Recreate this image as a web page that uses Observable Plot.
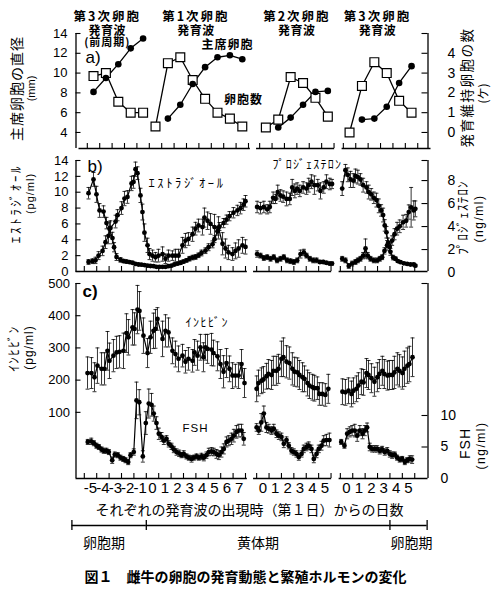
<!DOCTYPE html>
<html lang="ja">
<head>
<meta charset="utf-8">
<script src="https://cdn.jsdelivr.net/npm/d3@7"></script>
<script src="https://cdn.jsdelivr.net/npm/@observablehq/plot@0.6"></script>
<style>
  html, body { margin: 0; padding: 0; background: #fff; }
  #fig { position: relative; width: 494px; height: 596px; overflow: hidden; background: #fff; }
  #fig svg { position: absolute; left: 0; overflow: visible; }
</style>
</head>
<body>
<div id="fig"></div>
<script>
// ---------------- DATA ----------------
// x-axis: days from the emergence of each follicular wave (three segments)
const SEG_DAYS = [[-5,-4,-3,-2,-1,0,1,2,3,4,5,6,7],[0,1,2,3,4,5],[0,1,2,3,4,5]];

// panel a) follicle waves
const WAVE_TITLES = [["第3次卵胞","発育波","(前周期)"],["第1次卵胞","発育波"],["第2次卵胞","発育波"],["第3次卵胞","発育波"]];
const WAVE_SEG = [0,0,1,2];
const COUNT_DAYS = [[-5,-4,-3,-2,-1],[0,1,2,3,4,5,6,7],[0,1,2,3,4,5],[0,1,2,3,4,5]];
const COUNT_VALS = [[2.85,3.0,1.55,1.0,1.0],[0.3,3.5,3.8,2.65,1.7,1.0,0.7,0.3],[0.25,0.65,2.8,2.5,1.75,0.8],[0.0,2.35,3.55,3.0,1.6,1.0]];
const DIAM_DAYS = [[-5,-4,-3,-2,-1],[1,2,3,4,5,6,7],[1,2,3,4,5],[1,2,3,4,5]];
const DIAM_VALS = [[8.1,9.5,10.9,12.5,13.5],[5.4,6.8,8.9,10.6,11.6,11.8,11.4],[4.5,5.5,6.8,8.1,8.2],[5.3,5.4,6.6,9.0,10.7]];
const DIAM_TICKS = [4,6,8,10,12,14];
const COUNT_TICKS = [0,1,2,3,4];

// panel b) estradiol (pg/ml)
const E2_T = [
  [-4.66,-4.34,-4.10,-3.85,-3.53,-3.29,-3.05,-2.89,-2.48,-2.32,-2.00,-1.76,-1.52,-1.19,-1.03,-0.87,-0.71,-0.47,-0.31,-0.15,0.10,0.26,0.50,0.74,0.98,1.31,1.55,1.79,2.11,2.35,2.60,2.92,3.16,3.40,3.73,3.97,4.21,4.53,4.69,4.94,5.18,5.50,5.82,6.15,6.39,6.63,6.95,7.19,7.44,7.76,8.00],
  [0.04,0.31,0.58,0.85,1.12,1.38,1.65,1.92,2.19,2.46,2.73,3.00,3.27,3.54,3.81,4.02,4.29,4.56,4.83,5.10,5.37,5.63,5.90,6.08],
  [0.15,0.41,0.68,0.95,1.22,1.41,1.62,1.84,2.03,2.21,2.43,2.70,2.97,3.18,3.37,3.56,3.77,3.98,4.18,4.37,4.58,4.79,5.06,5.31,5.52,5.71,5.92,6.05]
];
const E2_V = [
  [1.2,1.3,1.4,2.0,2.6,3.7,4.5,5.5,6.3,7.1,8.0,9.2,9.4,11.1,11.3,12.9,12.4,9.6,7.5,4.9,3.3,2.2,2.0,1.8,2.0,2.2,1.6,2.0,2.0,2.0,2.0,3.3,3.9,4.1,4.7,5.4,5.8,5.6,6.8,6.4,6.0,5.6,5.5,3.5,2.9,2.4,2.2,2.6,2.9,3.3,3.1],
  [2.2,2.0,1.7,1.8,1.6,1.8,1.4,1.6,1.8,1.4,1.3,1.2,1.4,2.2,2.4,2.0,1.6,1.4,1.4,1.2,1.2,1.1,1.0,1.0],
  [1.6,1.4,0.7,1.0,1.2,1.4,1.6,2.0,2.9,2.0,1.6,1.4,1.4,1.6,1.8,2.6,3.3,3.1,3.9,4.7,5.4,5.7,6.2,6.4,7.5,8.1,7.7,7.9]
];
const E2_E = [
  [0.3,0.3,0.4,0.5,0.6,0.8,1.0,0.9,0.8,0.7,0.8,0.9,0.8,0.9,0.8,0.9,0.8,0.9,1.0,1.1,0.9,0.7,0.7,0.6,0.8,0.9,0.6,0.7,0.6,0.8,0.8,1.0,0.9,0.8,0.9,0.8,0.8,1.0,1.2,1.1,1.3,1.6,1.4,1.4,1.2,0.9,0.8,1.0,1.1,1.0,0.9],
  [0.4,0.3,0.3,0.3,0.3,0.3,0.3,0.3,0.3,0.3,0.3,0.3,0.3,0.5,0.4,0.3,0.3,0.3,0.3,0.2,0.2,0.2,0.2,0.2],
  [0.3,0.3,0.3,0.3,0.3,0.3,0.3,0.4,1.2,0.4,0.3,0.3,0.3,0.3,0.3,0.4,0.6,0.5,0.6,0.7,0.8,0.8,0.9,0.8,0.9,2.5,1.2,1.0]
];
const E2_TICKS = [0,2,4,6,8,10,12,14];

// panel b) progesterone (ng/ml)
const P4_T = [
  [-4.66,-4.26,-4.02,-3.77,-3.45,-3.21,-2.97,-2.73,-2.60,-2.40,-2.08,-1.84,-1.60,-1.35,-1.11,-0.87,-0.63,-0.39,-0.15,0.10,0.34,0.58,0.82,1.06,1.31,1.55,1.79,2.03,2.27,2.52,2.76,3.00,3.24,3.48,3.73,3.97,4.21,4.45,4.77,5.02,5.34,5.50,5.74,5.90,6.23,6.47,6.71,7.03,7.35,7.60,7.84,8.00],
  [0.04,0.31,0.58,0.85,1.06,1.33,1.52,1.70,1.92,2.14,2.41,2.67,2.87,3.08,3.27,3.48,3.75,4.02,4.20,4.42,4.66,4.93,5.15,5.41,5.63,5.90,6.08],
  [0.15,0.41,0.60,0.82,1.04,1.22,1.41,1.62,1.84,2.11,2.29,2.49,2.70,2.91,3.10,3.29,3.45,3.58,3.72,3.86,4.04,4.26,4.45,4.63,4.85,5.12,5.39,5.66,5.92,6.05]
];
const P4_V = [
  [6.9,8.1,6.8,5.4,5.3,4.3,3.8,3.0,2.2,1.35,1.1,1.0,0.95,0.9,0.85,0.75,0.7,0.68,0.65,0.6,0.57,0.55,0.5,0.5,0.5,0.5,0.55,0.6,0.7,0.77,0.85,0.95,1.05,1.2,1.3,1.35,1.5,1.7,1.9,2.2,2.45,2.9,3.6,4.0,4.3,4.6,4.9,5.2,5.4,5.6,5.9,6.2],
  [5.7,5.6,5.7,5.5,5.7,6.5,6.4,7.0,6.7,6.6,6.4,6.4,7.4,7.1,7.3,7.1,7.4,7.3,7.6,7.9,7.6,7.6,7.1,7.4,7.9,7.7,7.7],
  [7.3,8.9,8.5,8.1,8.0,8.4,8.3,8.1,7.6,7.4,7.0,6.8,6.5,6.3,5.8,5.4,5.0,4.1,3.5,2.6,1.8,1.3,1.2,1.0,0.9,0.8,0.75,0.7,0.7,0.6]
];
const P4_E = [
  [0.5,0.6,0.7,0.6,0.5,0.5,0.6,0.5,0.4,0.3,0.2,0.15,0.15,0.1,0.1,0.1,0.1,0.1,0.1,0.1,0.1,0.1,0.1,0.1,0.1,0.1,0.1,0.1,0.1,0.1,0.15,0.15,0.15,0.2,0.2,0.2,0.2,0.25,0.25,0.3,0.3,0.3,0.35,0.35,0.4,0.4,0.4,0.45,0.45,0.5,0.5,0.5],
  [0.5,0.5,0.5,0.4,0.5,0.5,0.4,0.6,0.5,0.5,0.6,0.5,0.7,0.6,0.5,0.5,0.5,0.5,0.6,0.6,0.8,0.5,0.7,0.5,0.6,0.5,0.4],
  [0.6,0.5,0.6,0.7,0.6,0.6,0.6,0.5,0.6,0.5,0.6,0.5,0.5,0.6,0.6,0.5,0.6,0.5,0.5,0.4,0.3,0.2,0.15,0.1,0.1,0.1,0.1,0.1,0.1,0.1]
];
const P4_TICKS = [0,2,4,6,8];

// panel c) inhibin (pg/ml)
const INH_T = [
  [-4.74,-4.42,-4.18,-3.94,-3.61,-3.37,-3.13,-2.97,-2.65,-2.40,-2.16,-1.84,-1.60,-1.44,-1.11,-0.95,-0.71,-0.55,-0.23,0.10,0.34,0.58,0.74,0.90,1.31,1.55,1.79,2.11,2.35,2.60,2.92,3.16,3.40,3.73,3.89,4.13,4.37,4.61,4.77,4.94,5.26,5.42,5.74,5.98,6.23,6.47,6.71,6.95,7.19,7.44,7.68,7.92],
  [0.00,0.15,0.39,0.55,0.79,0.95,1.20,1.35,1.59,1.76,2.00,2.16,2.41,2.64,2.88,3.06,3.29,3.45,3.70,3.86,4.10,4.26,4.50,4.66,4.90,5.06,5.30,5.54,5.78],
  [0.17,0.41,0.66,0.90,1.06,1.30,1.46,1.70,1.87,2.11,2.27,2.51,2.75,2.99,3.15,3.39,3.55,3.80,3.96,4.20,4.36,4.60,4.77,5.01,5.17,5.41,5.57,5.82]
];
const INH_V = [
  [222,222,209,245,235,235,291,260,276,286,288,291,346,333,364,359,419,415,338,284,333,353,359,390,328,353,348,291,281,266,276,257,266,260,286,276,302,271,302,297,295,284,274,250,226,253,235,214,214,214,250,191],
  [173,191,198,202,212,219,216,229,229,235,266,271,257,253,235,226,224,216,209,204,191,183,178,175,175,157,157,154,173],
  [164,162,167,157,167,173,183,195,193,222,216,206,195,209,219,229,219,214,216,216,224,235,229,222,235,245,250,271]
];
const INH_E = [
  [50,48,45,55,50,50,60,55,50,50,50,55,60,55,55,50,75,60,55,45,50,55,60,35,55,50,45,40,40,40,35,35,35,35,40,45,40,45,40,45,50,40,45,45,50,45,40,40,35,40,45,45],
  [40,40,40,40,40,45,45,45,45,45,55,60,50,50,50,45,45,45,45,40,40,40,40,40,35,35,35,35,45],
  [40,40,40,40,40,40,40,40,40,45,45,45,45,45,45,45,45,45,45,45,50,50,50,50,55,55,55,60]
];
const INH_TICKS = [100,200,300,400,500];

// panel c) FSH (ng/ml)
const FSH_T = [
  [-4.72,-4.44,-4.23,-4.02,-3.83,-3.61,-3.43,-3.21,-3.02,-2.75,-2.54,-2.30,-2.08,-1.86,-1.68,-1.46,-1.27,-1.01,-0.79,-0.57,-0.28,-0.04,0.20,0.42,0.60,0.82,1.01,1.23,1.41,1.63,1.81,2.03,2.22,2.44,2.65,2.84,3.02,3.24,3.43,3.65,3.83,4.05,4.23,4.45,4.64,4.85,5.04,5.26,5.44,5.66,5.85,6.06,6.25,6.47,6.65,6.87,7.06,7.27,7.46,7.68,7.86],
  [0.00,0.17,0.37,0.58,0.79,0.98,1.20,1.38,1.60,1.79,2.00,2.19,2.41,2.59,2.81,3.00,3.21,3.40,3.62,3.80,4.02,4.20,4.42,4.61,4.83,5.01,5.23,5.41,5.63,5.87],
  [0.07,0.33,0.55,0.76,0.95,1.16,1.36,1.57,1.79,1.97,2.16,2.37,2.57,2.78,2.97,3.18,3.37,3.58,3.78,3.99,4.18,4.39,4.58,4.79,4.99,5.20,5.39,5.60,5.79]
];
const FSH_V = [
  [5.8,5.9,5.6,5.2,5.0,4.6,4.4,4.4,4.2,2.9,3.8,3.7,3.3,3.1,2.9,2.6,3.7,4.2,12.4,12.1,3.5,8.8,11.9,11.7,10.3,8.8,7.1,6.6,6.0,6.3,5.5,5.1,4.6,4.2,4.0,3.7,3.9,3.5,3.3,3.1,3.3,3.5,3.3,3.5,3.3,3.7,4.2,4.3,4.2,3.9,3.7,4.2,4.7,5.8,6.0,6.3,6.8,7.4,7.6,7.6,6.3],
  [8.1,7.6,8.9,10.3,8.1,7.9,7.6,7.9,7.1,6.8,6.6,5.5,6.1,5.2,4.4,4.2,3.9,3.4,3.9,4.7,5.0,5.2,4.7,3.1,3.9,4.7,5.2,6.0,6.1,6.1],
  [5.8,5.2,7.1,7.4,7.6,7.6,6.8,7.6,7.1,7.6,8.1,5.0,4.7,4.7,4.7,4.4,4.6,4.2,4.4,3.9,3.7,3.8,3.3,3.0,3.1,2.6,2.9,3.1,3.0]
];
const FSH_E = [
  [0.4,0.5,0.4,0.4,0.4,0.4,0.4,0.4,0.4,0.5,0.4,0.4,0.4,0.4,0.4,0.4,0.4,0.5,2.9,2.0,0.9,1.8,2.3,1.8,1.2,1.0,0.9,0.7,0.6,0.5,0.5,0.5,0.5,0.5,0.5,0.4,0.5,0.4,0.4,0.5,0.4,0.4,0.4,0.5,0.5,0.5,0.6,0.6,0.6,0.7,0.7,0.8,0.8,0.8,0.8,0.9,1.0,1.0,1.0,1.0,1.0],
  [0.6,0.6,1.4,1.2,0.8,0.7,0.6,0.7,0.6,0.6,0.6,0.6,0.5,0.5,0.5,0.5,0.5,0.5,0.5,0.6,0.6,0.6,0.6,0.6,0.6,0.6,0.7,0.8,0.9,1.1],
  [0.4,0.4,0.8,0.8,0.8,1.0,0.9,0.8,0.8,0.8,0.7,0.6,0.5,0.5,0.5,0.5,0.5,0.5,0.5,0.5,0.5,0.4,0.4,0.4,0.4,0.4,0.4,0.5,0.6]
];
const FSH_TICKS = [0,5,10];

// phases (segment, day)
const PHASES = [
  {name: "卵胞期", from: [0,-6], to: [0,0]},
  {name: "黄体期", from: [0,0], to: [2,4]},
  {name: "卵胞期", from: [2,4], to: [2,7]}
];

const X_TITLE = "それぞれの発育波の出現時（第１日）からの日数";
const CAPTION = "図１　雌牛の卵胞の発育動態と繁殖ホルモンの変化";

// ---------------- LAYOUT ----------------
const W = 494;
const FRAME_L = 75.5, FRAME_R = 427.5;
const FW = FRAME_R - FRAME_L;
const XD = [-5.67, 22.72];
const SEG_OFFSET = [0, 8.9, 15.65];
const pos = (s, t) => t + SEG_OFFSET[s];
const JP = '"Noto Sans CJK JP", "Noto Sans", sans-serif';
const NUM = '"Liberation Sans", Arial, sans-serif';
const fig = document.getElementById("fig");

const capSym = {draw(ctx, size) { const w = Math.sqrt(size / Math.PI); ctx.moveTo(-w, 0); ctx.lineTo(w, 0); }};

function hormoneRows(name, T, V, E, toY) {
  const rows = [];
  T.forEach((ts, s) => ts.forEach((t, i) => {
    const v = V[s][i], e = E[s][i];
    rows.push({key: name + s, x: pos(s, t), y: toY(v), lo: toY(v - e), hi: toY(v + e)});
  }));
  return rows;
}
function seriesMarks(rows) {
  return [
    Plot.ruleX(rows, {x: "x", y1: "lo", y2: "hi", stroke: "#000", strokeWidth: 0.8}),
    Plot.dot(rows, {x: "x", y: "hi", symbol: capSym, r: 2, fill: "none", stroke: "#000", strokeWidth: 0.8}),
    Plot.dot(rows, {x: "x", y: "lo", symbol: capSym, r: 2, fill: "none", stroke: "#000", strokeWidth: 0.8}),
    Plot.line(rows, {x: "x", y: "y", z: "key", stroke: "#000", strokeWidth: 1.2}),
    Plot.dot(rows, {x: "x", y: "y", r: 2.4, fill: "#000", stroke: "none"})
  ];
}
function axisMarks({fh, yMin, leftTicks, rightTicks, shift}) {
  const tickPos = [];
  SEG_DAYS.forEach((days, s) => { for (let d = days[0]; d <= days[days.length - 1] + 1; d++) tickPos.push(pos(s, d)); });
  const spans = [[XD[0], pos(0, 8.15)], [pos(1, -0.25), pos(1, 6.05)], [pos(2, -0.1), XD[1]]];
  return [
    Plot.ruleX(XD, {x: d => d, stroke: "#000", strokeWidth: 1.3}),
    Plot.ruleY(spans, {y: () => yMin, x1: d => d[0], x2: d => d[1], dx: shift, stroke: "#000", strokeWidth: 1.3}),
    Plot.ruleX(tickPos, {x: d => d, insetTop: fh - 5, dx: shift, stroke: "#000", strokeWidth: 1.1}),
    Plot.ruleY(leftTicks, {y: d => d, insetRight: FW - 5, stroke: "#000", strokeWidth: 1.1}),
    Plot.ruleY(rightTicks, {y: d => d, insetLeft: FW - 6, stroke: "#000", strokeWidth: 1.1})
  ];
}
function leftLabels(ticks, toY, pad, size) {
  return Plot.text(ticks, {y: toY, text: d => String(d), frameAnchor: "left", dx: -pad, textAnchor: "end", fontSize: size, fontFamily: NUM, fill: "#000"});
}
function rightLabels(ticks, toY, pad, size) {
  return Plot.text(ticks, {y: toY, text: d => String(d), frameAnchor: "right", dx: pad, textAnchor: "start", fontSize: size, fontFamily: NUM, fill: "#000"});
}
function notes(frameTop, list) {
  return list.map(n => Plot.text([n.t], {
    frameAnchor: "top-left", dx: n.x - FRAME_L, dy: n.y - frameTop,
    textAnchor: n.anchor || "middle", lineAnchor: "middle", rotate: n.rot || 0,
    fontSize: n.size, fontWeight: n.bold ? "bold" : "normal", fontFamily: n.num ? NUM : JP, fill: "#000"
  }));
}
function place(svg, top) { svg.style.position = "absolute"; svg.style.top = top + "px"; svg.style.left = "0px"; fig.appendChild(svg); }
const STYLE = {background: "transparent", overflow: "visible", fontFamily: JP, color: "#000"};

// ---------------- PANEL A ----------------
{
  const H = 152, MT = 33, MB = 4, fh = H - MT - MB, yMin = 2.38;
  const cToMm = c => 4 + 2 * c;
  const countRows = [], diamRows = [];
  COUNT_DAYS.forEach((days, g) => days.forEach((d, i) => countRows.push({g, x: pos(WAVE_SEG[g], d + 0.5), y: cToMm(COUNT_VALS[g][i])})));
  DIAM_DAYS.forEach((days, g) => days.forEach((d, i) => diamRows.push({g, x: pos(WAVE_SEG[g], d + 0.5), y: DIAM_VALS[g][i]})));
  const headerDx = [-8, 0, 3, 0], lineY = [-21, -7, 5], lineSize = [12.5, 12, 11];
  const headers = WAVE_TITLES.flatMap((lines, g) => {
    const days = COUNT_DAYS[g];
    const cx = pos(WAVE_SEG[g], (days[0] + days[days.length - 1]) / 2 + 0.5);
    return lines.map((t, k) => Plot.text([t], {x: () => cx, frameAnchor: "top", dy: lineY[k], dx: headerDx[g], fontSize: lineSize[k], fontWeight: "bold", fontFamily: JP, fill: "#000"}));
  });
  const svg = Plot.plot({
    width: W, height: H, marginTop: MT, marginBottom: MB, marginLeft: FRAME_L, marginRight: W - FRAME_R,
    x: {domain: XD, axis: null}, y: {domain: [yMin, 14], axis: null}, style: STYLE,
    marks: [
      ...axisMarks({fh, yMin, leftTicks: DIAM_TICKS, rightTicks: [0,1,2,3,4,5].map(cToMm), shift: 3}),
      leftLabels(DIAM_TICKS, d => d, 8.5, 13),
      rightLabels(COUNT_TICKS, cToMm, 19.5, 14),
      Plot.line(countRows, {x: "x", y: "y", z: "g", stroke: "#000", strokeWidth: 1.3, dx: 3}),
      Plot.line(diamRows, {x: "x", y: "y", z: "g", stroke: "#000", strokeWidth: 1.3, dx: 3}),
      Plot.dot(countRows, {x: "x", y: "y", symbol: "square", r: 5, fill: "#fff", stroke: "#000", strokeWidth: 1.2, dx: 3}),
      Plot.dot(diamRows, {x: "x", y: "y", r: 3.3, fill: "#000", stroke: "none", dx: 3}),
      ...headers,
      ...notes(MT, [
        {t: "a)", x: 85, y: 57, size: 17, num: true, anchor: "start"},
        {t: "主席卵胞", x: 227, y: 45, size: 12, bold: true},
        {t: "卵胞数", x: 243, y: 100, size: 12, bold: true},
        {t: "主席卵胞の直径", x: 17, y: 88, size: 14, rot: -90},
        {t: "(mm)", x: 31, y: 88, size: 11, rot: -90, num: true},
        {t: "発育維持卵胞の数", x: 467, y: 87, size: 13.5, rot: -90},
        {t: "(ケ)", x: 484, y: 93, size: 12, rot: -90}
      ])
    ]
  });
  place(svg, 0);
}

// ---------------- PANEL B ----------------
{
  const TOP = 152, H = 123, MT = 8, MB = 4, fh = H - MT - MB;
  const pToE = p => 1.45 * p - 0.13;
  const rows = [...hormoneRows("e2", E2_T, E2_V, E2_E, v => v), ...hormoneRows("p4", P4_T, P4_V, P4_E, pToE)];
  const svg = Plot.plot({
    width: W, height: H, marginTop: MT, marginBottom: MB, marginLeft: FRAME_L, marginRight: W - FRAME_R,
    x: {domain: XD, axis: null}, y: {domain: [0, 14], axis: null}, style: STYLE,
    marks: [
      ...axisMarks({fh, yMin: 0, leftTicks: E2_TICKS, rightTicks: [...P4_TICKS.slice(1).map(pToE), 14], shift: 0}),
      leftLabels(E2_TICKS, d => d, 7.5, 13),
      rightLabels(P4_TICKS, pToE, 19.5, 14),
      ...seriesMarks(rows),
      ...notes(TOP + MT, [
        {t: "b)", x: 87, y: 166, size: 17, num: true, anchor: "start"},
        {t: "ｴｽﾄﾗｼﾞｵｰﾙ", x: 148, y: 183, size: 12.5, anchor: "start"},
        {t: "ﾌﾟﾛｼﾞｪｽﾃﾛﾝ", x: 272, y: 165, size: 12, anchor: "start"},
        {t: "ｴｽﾄﾗｼﾞｵｰﾙ", x: 15, y: 203, size: 13, rot: -90},
        {t: "(pg/ml)", x: 30, y: 193, size: 11, rot: -90, num: true},
        {t: "ﾌﾟﾛｼﾞｪｽﾃﾛﾝ", x: 462, y: 217, size: 13, rot: -90},
        {t: "(ng/ml)", x: 479, y: 218, size: 12, rot: -90, num: true}
      ])
    ]
  });
  place(svg, TOP);
}

// ---------------- PANEL C ----------------
{
  const TOP = 275, H = 245, MT = 8, MB = 42, fh = H - MT - MB;
  const yMin = -105.4;
  const fToI = f => yMin + 19.56 * f;
  const rows = [...hormoneRows("inh", INH_T, INH_V, INH_E, v => v), ...hormoneRows("fsh", FSH_T, FSH_V, FSH_E, fToI)];
  const xLabels = SEG_DAYS.flatMap((days, s) => days.map(d => ({s, d})));
  const svg = Plot.plot({
    width: W, height: H, marginTop: MT, marginBottom: MB, marginLeft: FRAME_L, marginRight: W - FRAME_R,
    x: {domain: XD, axis: null}, y: {domain: [yMin, 500], axis: null}, style: STYLE,
    marks: [
      ...axisMarks({fh, yMin, leftTicks: INH_TICKS, rightTicks: [...FSH_TICKS.slice(1).map(fToI), 500], shift: 0}),
      leftLabels(INH_TICKS, d => d, 6, 13),
      rightLabels(FSH_TICKS, fToI, 12.5, 14),
      ...seriesMarks(rows),
      Plot.text(xLabels, {x: l => pos(l.s, l.d + 0.5), text: l => String(l.d), frameAnchor: "bottom", dy: 14, fontSize: 15, fontFamily: NUM, fill: "#000"}),
      ...notes(TOP + MT, [
        {t: "c)", x: 82, y: 291, size: 17, num: true, bold: true, anchor: "start"},
        {t: "ｲﾝﾋﾋﾞﾝ", x: 185, y: 323, size: 12, anchor: "start"},
        {t: "FSH", x: 182, y: 428, size: 11.5, num: true, anchor: "start"},
        {t: "ｲﾝﾋﾋﾞﾝ", x: 13, y: 348, size: 13, rot: -90},
        {t: "(pg/ml)", x: 29, y: 347, size: 12, rot: -90, num: true},
        {t: "FSH", x: 465, y: 443, size: 14, rot: -90, num: true},
        {t: "(ng/ml)", x: 481, y: 445, size: 12, rot: -90, num: true},
        {t: X_TITLE, x: 249, y: 510, size: 14}
      ])
    ]
  });
  place(svg, TOP);
}

// ---------------- PHASE BAR + CAPTION ----------------
{
  const TOP = 520, H = 76;
  const ph = PHASES.map(p => ({name: p.name, x1: pos(...p.from), x2: pos(...p.to)}));
  const bounds = [...new Set(ph.flatMap(p => [p.x1, p.x2]))];
  const labelDx = [-5, -10, 3];
  const svg = Plot.plot({
    width: W, height: H, marginTop: 0, marginBottom: 66, marginLeft: FRAME_L, marginRight: W - FRAME_R,
    x: {domain: XD, axis: null}, y: {domain: [-1, 1], axis: null}, style: STYLE,
    marks: [
      Plot.ruleY(ph, {y: () => 0, x1: "x1", x2: "x2", stroke: "#000", strokeWidth: 1.5}),
      Plot.ruleX(bounds, {x: d => d, stroke: "#000", strokeWidth: 1.3}),
      ...ph.map((p, i) => Plot.text([p], {x: d => (d.x1 + d.x2) / 2, text: "name", dy: 18, dx: labelDx[i], fontSize: 14, fontFamily: JP, fill: "#000"})),
      Plot.text([CAPTION], {frameAnchor: "left", dx: 245 - FRAME_L, dy: 52, textAnchor: "middle", fontSize: 14, fontWeight: "bold", fontFamily: JP, fill: "#000"})
    ]
  });
  place(svg, TOP);
}

// letter spacing for spaced-out Japanese labels
const LS = {"主席卵胞": 1, "卵胞数": 1, "主席卵胞の直径": 1, "発育維持卵胞の数": 1.5, "ｴｽﾄﾗｼﾞｵｰﾙ": 2.6, "ﾌﾟﾛｼﾞｪｽﾃﾛﾝ": 1.2,
  "ｲﾝﾋﾋﾞﾝ": 1.5, "第3次卵胞": 2, "第1次卵胞": 2, "第2次卵胞": 2, "発育波": 0.5, "(前周期)": 1, "(pg/ml)": 1, "(ng/ml)": 1.5, "FSH": 1};
d3.select(fig).selectAll("text").each(function () {
  const ls = LS[this.textContent];
  if (ls) this.setAttribute("letter-spacing", ls);
});
</script>
</body>
</html>
